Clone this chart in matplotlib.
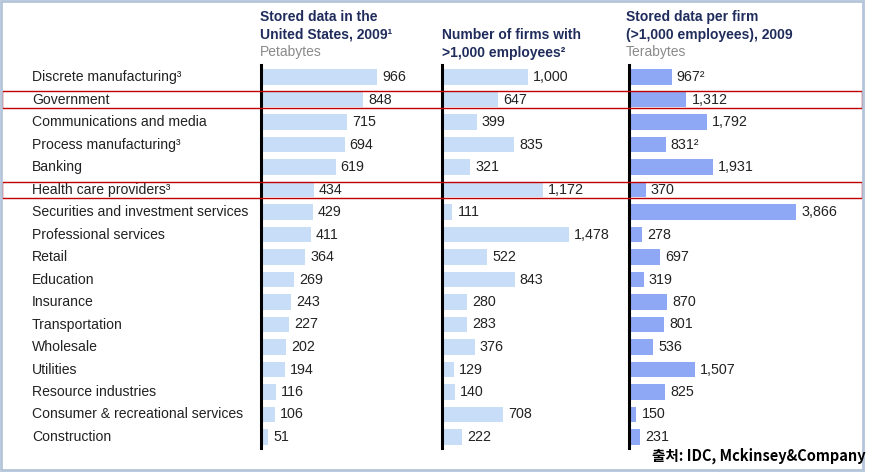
import matplotlib.pyplot as plt
from matplotlib.patches import Rectangle
import matplotlib.transforms as mtransforms

plt.rcParams['font.family'] = ['Liberation Sans', 'DejaVu Sans']

industries = [
    "Discrete manufacturing\u00b3", "Government", "Communications and media",
    "Process manufacturing\u00b3", "Banking", "Health care providers\u00b3",
    "Securities and investment services", "Professional services", "Retail",
    "Education", "Insurance", "Transportation", "Wholesale", "Utilities",
    "Resource industries", "Consumer & recreational services", "Construction",
]
stored_pb = [966, 848, 715, 694, 619, 434, 429, 411, 364, 269, 243, 227, 202, 194, 116, 106, 51]
firms = [1000, 647, 399, 835, 321, 1172, 111, 1478, 522, 843, 280, 283, 376, 129, 140, 708, 222]
per_firm_tb = [967, 1312, 1792, 831, 1931, 370, 3866, 278, 697, 319, 870, 801, 536, 1507, 825, 150, 231]
per_firm_note = {0: "\u00b2", 3: "\u00b2"}
highlight_rows = [1, 5]

W, H = 878, 472
fig = plt.figure(figsize=(W / 100, H / 100), dpi=100)

navy = "#1f2c5c"
light_bar = "#c8ddf7"
mid_bar = "#8ea8f6"

# pixel helpers
def fx(px):
    return px / W

def fy(py):
    return 1 - py / H

top_px, bot_px = 65, 448
row0, step = 77, 22.5
y_top = (top_px - row0) / step
y_bot = (bot_px - row0) / step

columns = [
    (261, 0.119, stored_pb, light_bar, {}),
    (442, 0.085, firms, light_bar, {}),
    (629, 0.043, per_firm_tb, mid_bar, per_firm_note),
]

axes = []
for left, scale, vals, col, notes in columns:
    width_px = 220 if left > 600 else 170
    ax = fig.add_axes([fx(left), fy(bot_px), fx(width_px), (bot_px - top_px) / H])
    ax.set_xlim(0, width_px / scale)
    ax.set_ylim(y_bot, y_top)
    ypos = list(range(len(vals)))
    ax.barh(ypos, vals, height=0.68, color=col, left=1 / scale)
    for i, v in enumerate(vals):
        ax.text(v + 6 / scale, i, f"{v:,}" + notes.get(i, ""), va="center", ha="left",
                fontsize=10.3, color="#222222")
    for s in ["top", "right", "bottom"]:
        ax.spines[s].set_visible(False)
    ax.spines["left"].set_linewidth(2.2)
    ax.spines["left"].set_color("black")
    ax.set_xticks([])
    ax.set_yticks([])
    ax.patch.set_alpha(0)
    axes.append(ax)

# row labels
trans = mtransforms.blended_transform_factory(fig.transFigure, axes[0].transData)
for i, name in enumerate(industries):
    axes[0].text(fx(32), i, name, transform=trans, va="center", ha="left",
                 fontsize=10.1, color="#222222", clip_on=False)

# column headers
def header(x, lines_bold, sub, first_line_px):
    y = first_line_px
    for ln in lines_bold:
        fig.text(fx(x), fy(y), ln, fontsize=10, fontweight="bold", color=navy,
                 va="center", ha="left")
        y += 17.5
    if sub:
        fig.text(fx(x), fy(y), sub, fontsize=10, color="#8a8a8a", va="center", ha="left")

header(260, ["Stored data in the", "United States, 2009\u00b9"], "Petabytes", 17)
header(442, ["Number of firms with", ">1,000 employees\u00b2"], None, 35)
header(626, ["Stored data per firm", "(>1,000 employees), 2009"], "Terabytes", 17)

# red highlight boxes
for r in highlight_rows:
    yc = row0 + r * step
    fig.add_artist(Rectangle((fx(2), fy(yc + 8)), fx(860), 16 / H, fill=False,
                             edgecolor="#c00000", linewidth=1.0,
                             transform=fig.transFigure))

# outer frame
fig.add_artist(Rectangle((fx(1), fy(470)), fx(862), 469 / H, fill=False,
                         edgecolor="#b4c4da", linewidth=2, transform=fig.transFigure))

fig.text(fx(866), fy(456), "출처: IDC, Mckinsey&Company", fontsize=10.5,
         fontweight="bold", family=["Noto Sans CJK KR", "DejaVu Sans"],
         ha="right", va="center", color="black")

fig.savefig("out.png", dpi=100)
